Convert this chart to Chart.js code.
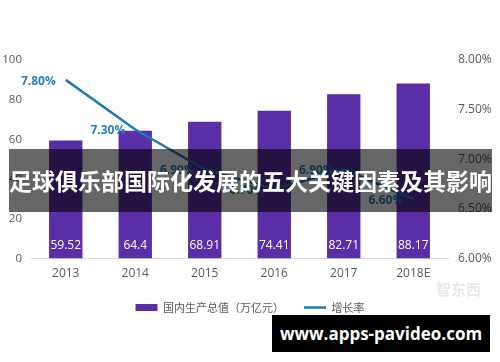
<!DOCTYPE html>
<html><head><meta charset="utf-8">
<script src="https://cdn.jsdelivr.net/npm/chart.js@4.4.0/dist/chart.umd.min.js"></script>
<style>
html,body{margin:0;padding:0;background:#fff;}
#wrap{position:relative;width:500px;height:362px;overflow:hidden;}
#banner{position:absolute;left:9px;top:149px;width:483px;height:63px;background:rgba(0,0,0,0.6);color:#fff;font-family:"Noto Sans CJK SC";font-weight:bold;font-size:23px;line-height:63px;text-align:center;white-space:nowrap;}
#site{position:absolute;left:272px;top:315px;width:218px;height:37px;background:#000;color:#fff;font-family:"Open Sans";font-weight:bold;font-size:17px;line-height:37px;text-align:center;}
#wm{position:absolute;left:436px;top:280px;color:#e9e9e9;font-family:"Noto Sans CJK SC";font-size:15px;font-weight:bold;line-height:18px;}
</style></head>
<body><div id="wrap"><canvas id="c" width="500" height="362"></canvas>
<div id="wm">智东西</div>
<div id="banner">足球俱乐部国际化发展的五大关键因素及其影响</div>
<div id="site">www.apps-pavideo.com</div></div>
<script>
const categories = ['2013','2014','2015','2016','2017','2018E'];
const gdpValues = [59.52, 64.4, 68.91, 74.41, 82.71, 88.17];
const growthRates = [7.80, 7.30, 6.90, 6.70, 6.90, 6.60];
const barLabel = '国内生产总值（万亿元）';
const lineLabel = '增长率';
const barColor = '#5a2ea6';
const lineColor = '#1f7bb8';
const labelColor = '#2a80c0';
const tickColor = '#595959';

const labelPlugin = {
  id: 'valueLabels',
  afterDatasetsDraw(chart) {
    const ctx = chart.ctx;
    ctx.save();
    const barMeta = chart.getDatasetMeta(0);
    ctx.font = '12px "Open Sans"';
    ctx.fillStyle = '#ffffff';
    ctx.textAlign = 'center';
    ctx.textBaseline = 'middle';
    barMeta.data.forEach((el, i) => {
      ctx.fillText(String(gdpValues[i]), el.x, el.base - 13);
    });
    const lineMeta = chart.getDatasetMeta(1);
    ctx.font = 'bold 12px "Open Sans"';
    ctx.fillStyle = labelColor;
    ctx.textAlign = 'right';
    lineMeta.data.forEach((el, i) => {
      ctx.fillText(growthRates[i].toFixed(2) + '%', el.x - 10, el.y + 1.5);
    });
    ctx.restore();
  }
};

new Chart(document.getElementById('c'), {
  data: {
    labels: categories,
    datasets: [
      { type: 'bar', label: barLabel, data: gdpValues, backgroundColor: barColor, yAxisID: 'y', barPercentage: 0.48, categoryPercentage: 1, order: 1 },
      { type: 'line', label: lineLabel, data: growthRates, borderColor: lineColor, backgroundColor: lineColor, borderWidth: 2.5, pointRadius: 0, yAxisID: 'y1', tension: 0, order: 0 }
    ]
  },
  options: {
    responsive: false,
    animation: false,
    devicePixelRatio: 1,
    layout: { padding: { left: 0, right: 0, top: 60, bottom: 39 } },
    plugins: {
      tooltip: { enabled: false },
      legend: {
        position: 'bottom',
        labels: {
          usePointStyle: true,
          pointStyleWidth: 22,
          boxHeight: 7,
          padding: 20,
          color: tickColor,
          font: { size: 11, family: '"Noto Sans CJK SC"' },
          generateLabels(chart) {
            const ds = chart.data.datasets;
            return [
              { text: ds[0].label, fillStyle: ds[0].backgroundColor, strokeStyle: ds[0].backgroundColor, lineWidth: 0, pointStyle: 'rect', datasetIndex: 0, hidden: false, fontColor: tickColor },
              { text: ds[1].label, fillStyle: ds[1].borderColor, strokeStyle: ds[1].borderColor, lineWidth: 2.5, pointStyle: 'line', datasetIndex: 1, hidden: false, fontColor: tickColor }
            ];
          }
        }
      }
    },
    scales: {
      x: {
        grid: { display: false, drawTicks: false },
        border: { color: '#d9d9d9' },
        ticks: { color: tickColor, font: { size: 12, family: '"Open Sans"' }, padding: 8 },
        afterFit(scale) { scale.height -= 7; }
      },
      y: {
        position: 'left', min: 0, max: 100,
        grid: { display: false, drawTicks: false },
        border: { display: false },
        ticks: { stepSize: 20, color: tickColor, font: { size: 11.5, family: '"Open Sans"' }, padding: 9 },
        afterFit(scale) { scale.width = 31; }
      },
      y1: {
        position: 'right', min: 6, max: 8,
        grid: { display: false, drawTicks: false },
        border: { display: false },
        ticks: { stepSize: 0.5, color: tickColor, font: { size: 12, family: '"Open Sans"' }, padding: 10, callback: v => v.toFixed(2) + '%' },
        afterFit(scale) { scale.width = 52; }
      }
    }
  },
  plugins: [labelPlugin]
});
</script>
</body></html>
